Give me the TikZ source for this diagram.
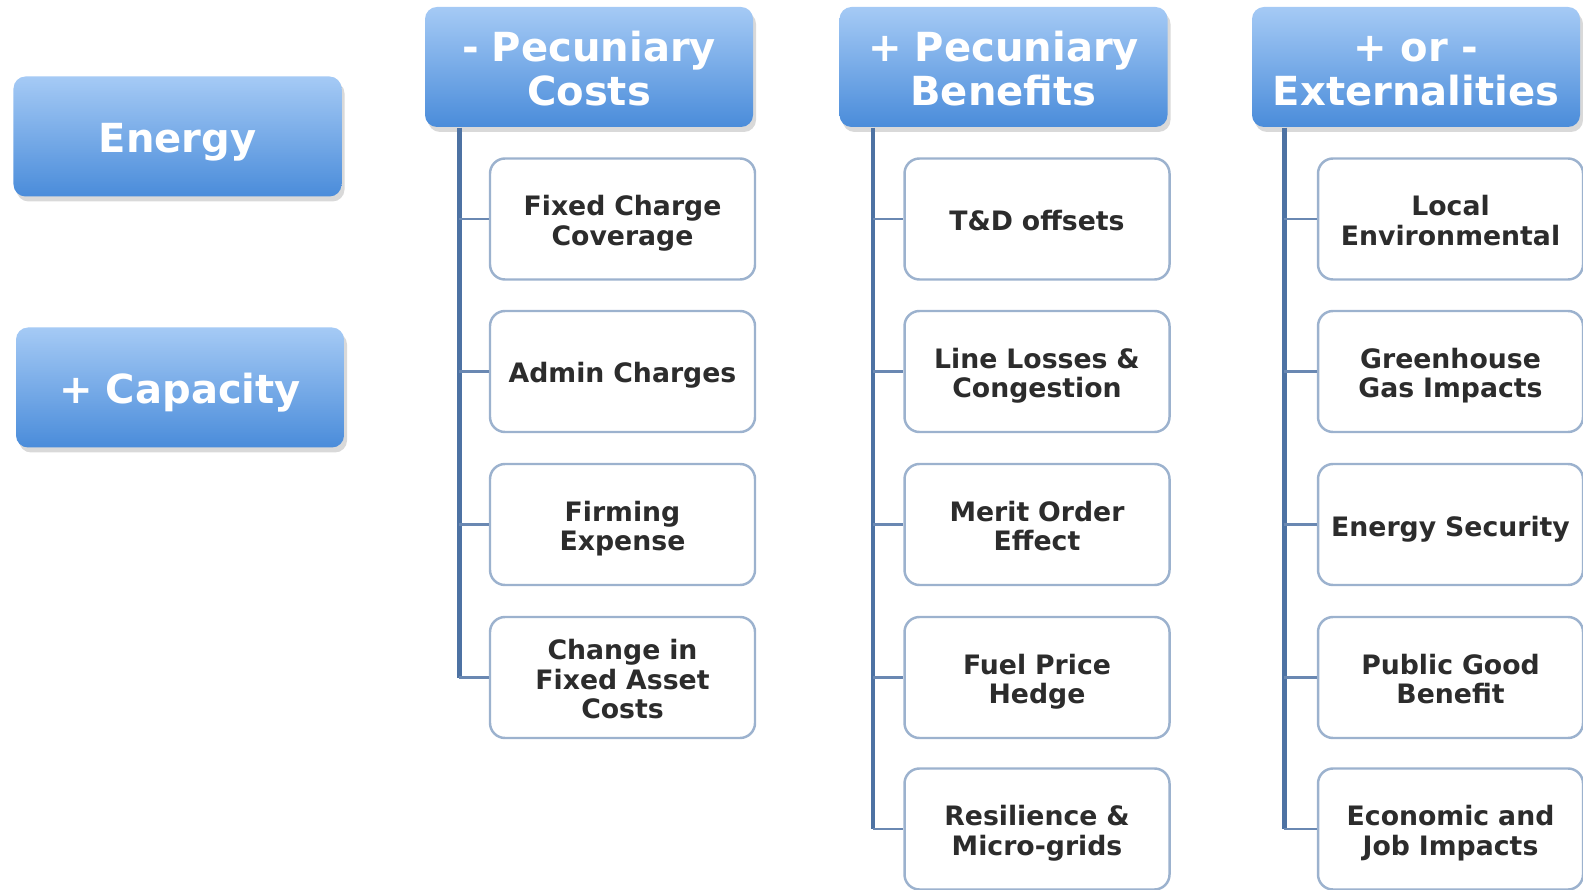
\documentclass[tikz,border=0pt]{standalone}
\usepackage{fontspec}
\setmainfont{DejaVu Sans}
\usepackage{xcolor}
\usepackage{tikz}
\usetikzlibrary{shadows}

\definecolor{headTop}{HTML}{A5CAF5}
\definecolor{headBot}{HTML}{4A8CDA}
\definecolor{trunkBlue}{HTML}{4D72A3}
\definecolor{branchBlue}{HTML}{6A88B2}
\definecolor{boxLine}{HTML}{9CB2CE}
\definecolor{itemText}{HTML}{2C2C2C}

\begin{document}
\begin{tikzpicture}
      [ x=1cm, y=1cm
      , header/.style={rounded corners=1.2mm, top color=headTop, bottom color=headBot,
          text=white, font=\fontsize{11.4}{12.7}\selectfont\bfseries,
          text width=3.2cm, align=center,
          minimum width=3.28cm, minimum height=1.2cm, inner sep=0pt,
          execute at begin node={\rule{0pt}{4.3mm}},
          execute at end node={\rule[-1mm]{0pt}{0pt}},
          drop shadow={shadow xshift=0.3mm, shadow yshift=-0.5mm, opacity=0.3, fill=gray}}
      , item/.style={draw=boxLine, line width=0.7pt, rounded corners=1.5mm, fill=white,
          text=itemText, font=\fontsize{7.6}{8.4}\selectfont\bfseries,
          text width=2.6cm, align=center,
          minimum width=2.65cm, minimum height=1.21cm, inner sep=0pt,
          execute at begin node={\rule{0pt}{3mm}},
          execute at end node={\rule[-0.7mm]{0pt}{0pt}}}
      , trunk/.style={trunkBlue, line width=1.3pt, draw}
      , branch/.style={branchBlue, line width=0.8pt, draw}
      ]
    \useasboundingbox (0,0) rectangle (15.83,8.89);

    \node[header] (E) at (1.775, 7.525) {Energy};
    \node[header] (Cap) at (1.80, 5.015) {+ Capacity};

    \node[header] (PC) at (5.89, 8.22) {- Pecuniary\\Costs};
    \node[header] (PB) at (10.035, 8.22) {+ Pecuniary\\Benefits};
    \node[header] (EX) at (14.16, 8.22) {+ or -\\Externalities};

    \coordinate (tPC) at ([xshift=3.5mm]PC.south west);
    \coordinate (tPB) at ([xshift=3.4mm]PB.south west);
    \coordinate (tEX) at ([xshift=3.3mm]EX.south west);

    \node[item] (FCC) at (6.225, 6.70) {Fixed Charge\\Coverage};
    \node[item] (AC) at (6.225, 5.175) {Admin Charges};
    \node[item] (FE) at (6.225, 3.645) {Firming\\Expense};
    \node[item] (CFA) at (6.225, 2.115) {Change in\\Fixed Asset\\Costs};

    \node[item] (TD) at (10.37, 6.70) {T\&D offsets};
    \node[item] (LL) at (10.37, 5.175) {Line Losses \&\\Congestion};
    \node[item] (MO) at (10.37, 3.645) {Merit Order\\Effect};
    \node[item] (FP) at (10.37, 2.115) {Fuel Price\\Hedge};
    \node[item] (RM) at (10.37, 0.60) {Resilience \&\\Micro-grids};

    \node[item] (LE) at (14.505, 6.70) {Local\\Environmental};
    \node[item] (GG) at (14.505, 5.175) {Greenhouse\\Gas Impacts};
    \node[item] (ES) at (14.505, 3.645) {Energy Security};
    \node[item] (PG) at (14.505, 2.115) {Public Good\\Benefit};
    \node[item] (EJ) at (14.505, 0.60) {Economic and\\Job Impacts};

    \draw[trunk]
    (tPC) -- (CFA.west -| tPC)
    (tPB) -- (RM.west -| tPB)
    (tEX) -- (EJ.west -| tEX);

    \draw[branch]
    (FCC.west -| tPC) -- (FCC.west)
    (AC.west -| tPC) -- (AC.west)
    (FE.west -| tPC) -- (FE.west)
    (CFA.west -| tPC) -- (CFA.west)

    (TD.west -| tPB) -- (TD.west)
    (LL.west -| tPB) -- (LL.west)
    (MO.west -| tPB) -- (MO.west)
    (FP.west -| tPB) -- (FP.west)
    (RM.west -| tPB) -- (RM.west)

    (LE.west -| tEX) -- (LE.west)
    (GG.west -| tEX) -- (GG.west)
    (ES.west -| tEX) -- (ES.west)
    (PG.west -| tEX) -- (PG.west)
    (EJ.west -| tEX) -- (EJ.west);
    \end{tikzpicture}
\end{document}
